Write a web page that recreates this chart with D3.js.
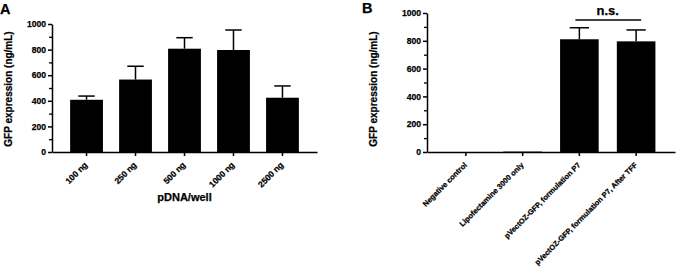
<!DOCTYPE html>
<html>
<head>
<meta charset="utf-8">
<script src="https://cdn.jsdelivr.net/npm/d3@7"></script>
<style>
  body { margin: 0; background: #fff; }
  svg text { font-family: "Liberation Sans", Arial, sans-serif; font-weight: bold; fill: #000;
             stroke: #000; stroke-width: 0.25px; }
</style>
</head>
<body>
<div id="chart"></div>
<script>
// Panel A data
const aCategories = ["100 ng", "250 ng", "500 ng", "1000 ng", "2500 ng"];
const aMeans = [408, 566, 807, 797, 424];
const aErrTops = [437, 670, 893, 953, 516];

// Panel B data
const bCategories = ["Negative control", "Lipofectamine 3000 only", "pVectOZ-GFP, formulation P7", "pVectOZ-GFP, formulation P7, After TFF"];
const bMeans = [0, 3, 811, 796];
const bErrTops = [0, 3, 894, 878];

const yTicks = [0, 200, 400, 600, 800, 1000];
const yMinorTicks = [100, 300, 500, 700, 900];

const svg = d3.select("#chart")
    .append("svg")
    .attr("width", 676)
    .attr("height", 270);

function panel(opt) {
    const x = d3.scaleBand()
        .domain(opt.cats)
        .range([opt.x0, opt.x1])
        .paddingInner(opt.padIn)
        .paddingOuter(opt.padOut);

    const y = d3.scaleLinear()
        .domain([0, 1000])
        .range([opt.y0, opt.y1]);

    const g = svg.append("g");
    const data = opt.cats.map((c, i) => ({ c, m: opt.means[i], e: opt.errs[i] }));
    const cx = d => x(d.c) + x.bandwidth() / 2;

    // error bars (upper only)
    const withErr = data.filter(d => d.e > d.m);
    g.selectAll(".err")
        .data(withErr)
        .enter().append("line")
        .attr("x1", cx).attr("x2", cx)
        .attr("y1", d => y(d.m))
        .attr("y2", d => y(d.e))
        .attr("stroke", "#000")
        .attr("stroke-width", 1.5);

    g.selectAll(".cap")
        .data(withErr)
        .enter().append("line")
        .attr("x1", d => cx(d) - x.bandwidth() * 0.25)
        .attr("x2", d => cx(d) + x.bandwidth() * 0.25)
        .attr("y1", d => y(d.e))
        .attr("y2", d => y(d.e))
        .attr("stroke", "#000")
        .attr("stroke-width", 1.5);

    // bars
    g.selectAll(".bar")
        .data(data)
        .enter().append("rect")
        .attr("x", d => x(d.c))
        .attr("y", d => y(d.m))
        .attr("width", x.bandwidth())
        .attr("height", d => y(0) - y(d.m))
        .attr("fill", "#000");

    // minor y ticks
    const yMinor = g.append("g")
        .attr("transform", `translate(${opt.x0},0)`)
        .call(d3.axisLeft(y).tickValues(yMinorTicks).tickSize(3).tickSizeOuter(0).tickFormat(""));
    yMinor.select(".domain").remove();
    yMinor.selectAll("line").attr("stroke-width", 1.3);

    // y axis
    const yAxis = g.append("g")
        .attr("transform", `translate(${opt.x0},0)`)
        .call(d3.axisLeft(y).tickValues(yTicks).tickSize(4).tickSizeOuter(0)
            .tickPadding(2).tickFormat(d3.format("d")));
    yAxis.selectAll("path, line").attr("stroke-width", 1.5);
    yAxis.selectAll("text").style("font-size", "8.6px");

    // x axis, labels rotated so that their end sits just under the tick
    const xAxis = g.append("g")
        .attr("transform", `translate(0,${opt.y0})`)
        .call(d3.axisBottom(x).tickSize(4).tickSizeOuter(0));
    xAxis.selectAll("path, line").attr("stroke-width", 1.5);
    xAxis.selectAll("text")
        .style("font-size", opt.xFont)
        .attr("text-anchor", "end")
        .attr("x", 0)
        .attr("y", 0)
        .attr("dx", 0)
        .attr("dy", 0)
        .attr("transform", "translate(1.5,13.5) rotate(-45)");

    // y axis title
    g.append("text")
        .attr("transform", `translate(${opt.yTitleX},${(152 + 24) / 2 + 1}) rotate(-90)`)
        .attr("text-anchor", "middle")
        .style("font-size", "10px")
        .text("GFP expression (ng/mL)");

    // panel letter
    g.append("text")
        .attr("x", opt.letterX)
        .attr("y", opt.letterY)
        .style("font-size", "14.5px")
        .text(opt.letter);

    return { x, y, g };
}

const A = panel({
    cats: aCategories, means: aMeans, errs: aErrTops,
    x0: 52, x1: 317, y0: 152, y1: 24,
    padIn: 0.33, padOut: 0.37, xFont: "8.5px",
    yTitleX: 12, letter: "A", letterX: 0, letterY: 14
});

A.g.append("text")
    .attr("x", (52 + 317) / 2)
    .attr("y", 201)
    .attr("text-anchor", "middle")
    .style("font-size", "11px")
    .text("pDNA/well");

const B = panel({
    cats: bCategories, means: bMeans, errs: bErrTops,
    x0: 427, x1: 675, y0: 152, y1: 13,
    padIn: 0.32, padOut: 0.345, xFont: "7.5px",
    yTitleX: 377, letter: "B", letterX: 362, letterY: 13
});

// significance bracket
const c3 = B.x(bCategories[2]) + B.x.bandwidth() / 2;
const c4 = B.x(bCategories[3]) + B.x.bandwidth() / 2;
B.g.append("line")
    .attr("x1", c3 - 4).attr("x2", c4 + 5)
    .attr("y1", 20).attr("y2", 20)
    .attr("stroke", "#000").attr("stroke-width", 1.3);
B.g.append("text")
    .attr("x", (c3 + c4) / 2)
    .attr("y", 15)
    .attr("text-anchor", "middle")
    .style("font-size", "13px")
    .text("n.s.");
</script>
</body>
</html>
